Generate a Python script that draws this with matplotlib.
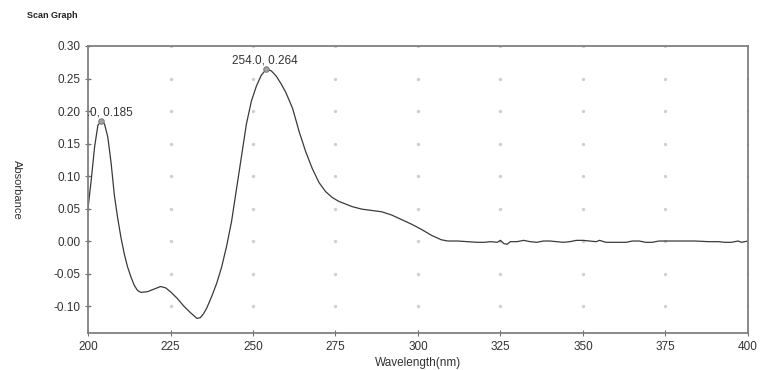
import numpy as np
import matplotlib.pyplot as plt

plt.rcParams['font.family'] = ['Liberation Sans', 'DejaVu Sans']

# wavelength (nm) and absorbance
wavelength = [200, 201, 202, 203, 204, 205, 206, 207, 208, 209, 210, 211, 212, 213, 214, 215, 216,
              218, 220, 222, 223.5, 225, 227, 229, 231, 233, 234, 235, 236, 237.5, 239, 240.5,
              242, 243.5, 245, 246.5, 248, 249.5, 251, 252.5, 254, 255.5, 257, 258.5, 260, 262,
              264, 266, 268, 270, 272, 274, 276, 278, 280, 283, 286, 289, 292, 295, 298, 301,
              304, 307, 309, 312, 315, 318, 320, 322, 324, 325, 326, 327, 328, 330, 332, 334,
              336, 338, 340, 342, 344, 346, 348, 350, 352, 354, 355, 357, 360, 363, 365, 367,
              369, 371, 373, 376, 380, 384, 388, 391, 393, 395, 397, 398, 400]
absorbance = [0.050, 0.095, 0.145, 0.178, 0.185, 0.180, 0.160, 0.120, 0.070, 0.035, 0.005, -0.020,
              -0.040, -0.055, -0.068, -0.076, -0.079, -0.078, -0.074, -0.070, -0.072, -0.078,
              -0.088, -0.100, -0.110, -0.119, -0.118, -0.112, -0.103, -0.085, -0.065, -0.040,
              -0.008, 0.030, 0.080, 0.130, 0.180, 0.215, 0.238, 0.255, 0.264, 0.262, 0.254,
              0.242, 0.228, 0.204, 0.168, 0.137, 0.111, 0.090, 0.076, 0.067, 0.061, 0.057,
              0.053, 0.049, 0.047, 0.045, 0.040, 0.033, 0.026, 0.018, 0.009, 0.002, 0.000,
              0.000, -0.001, -0.002, -0.002, -0.001, -0.002, 0.001, -0.004, -0.005, -0.001,
              -0.001, 0.001, -0.001, -0.002, 0.000, 0.000, -0.001, -0.002, -0.001, 0.001,
              0.001, 0.000, -0.001, 0.001, -0.002, -0.002, -0.002, 0.000, 0.000, -0.002,
              -0.002, 0.000, 0.000, 0.000, 0.000, -0.001, -0.001, -0.002, -0.002, 0.000,
              -0.002, 0.000]

peak_x = [204.0, 254.0]
peak_y = [0.185, 0.264]

x_ticks = [200, 225, 250, 275, 300, 325, 350, 375, 400]
y_ticks = [-0.10, -0.05, 0.00, 0.05, 0.10, 0.15, 0.20, 0.25, 0.30]

fig = plt.figure(figsize=(7.61, 3.70), dpi=100)
ax = fig.add_axes([88 / 761, 1 - 333 / 370, 660 / 761, 287 / 370])

# grid dots at tick crossings
gx, gy = np.meshgrid(x_ticks, y_ticks)
ax.scatter(gx.ravel(), gy.ravel(), s=2, c='#d0d0d0', zorder=1)

ax.plot(wavelength, absorbance, color='#3a3a3a', lw=0.9, zorder=2)
ax.plot(peak_x, peak_y, 'o', ms=4, mfc='#a0a0a0', mec='#707070', mew=0.6, ls='none', zorder=3)

ax.text(peak_x[1] - 0.5, peak_y[1] + 0.004, f'{peak_x[1]:.1f}, {peak_y[1]:.3f}',
        ha='center', va='bottom', fontsize=8.5, color='#333333')
ax.text(peak_x[0] - 0.5, peak_y[0] + 0.004, f'{peak_x[0]:.1f}, {peak_y[0]:.3f}',
        ha='center', va='bottom', fontsize=8.5, color='#333333', clip_on=True)

ax.set_xlim(200, 400)
ax.set_ylim(-0.1415, 0.30)
ax.set_xticks(x_ticks)
ax.set_yticks(y_ticks)
ax.set_yticklabels([f'{v:.2f}' for v in y_ticks])
ax.tick_params(direction='inout', length=5, width=0.8, color='#707070',
               labelsize=8.5, labelcolor='#333333', pad=3)

for s in ax.spines.values():
    s.set_color('#808080')
    s.set_linewidth(1.3)

ax.set_xlabel('Wavelength(nm)', fontsize=8.5, color='#333333', labelpad=3)
ax.set_ylabel('Absorbance', fontsize=8, color='#333333', rotation=270, va='center')
ax.yaxis.set_label_coords(-0.108, 0.5)

fig.text(27 / 761, 1 - 16 / 370, 'Scan Graph', fontsize=6.5, fontweight='bold',
         color='#222222', va='center', ha='left')

fig.savefig('out.png', dpi=100)
